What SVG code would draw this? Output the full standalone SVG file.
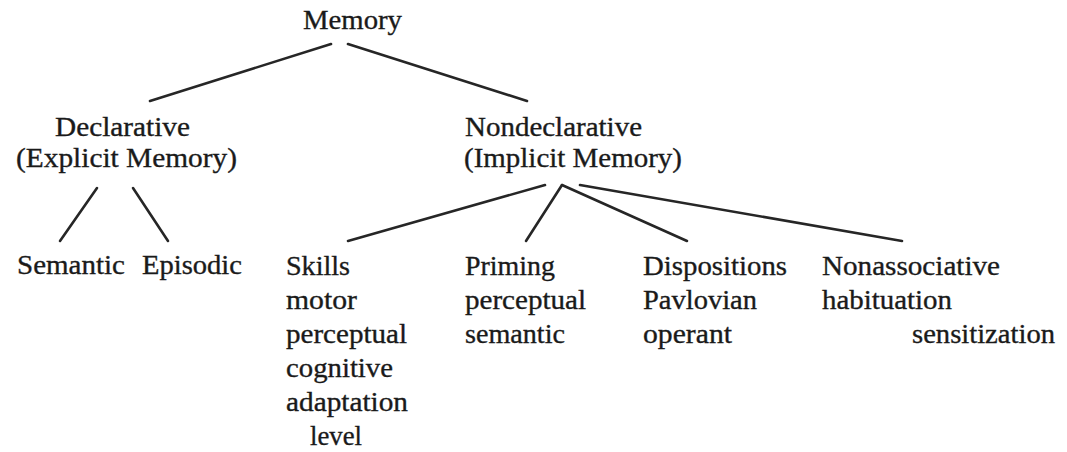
<svg xmlns="http://www.w3.org/2000/svg" width="1067" height="452" viewBox="0 0 1067 452">
<style>
text{font-family:"Liberation Serif","Times New Roman",serif;font-size:28px;fill:#1a1a1a;stroke:#1a1a1a;stroke-width:0.35}
.c line{stroke:#262626;stroke-width:2.6;stroke-linecap:round}
</style>
<rect width="1067" height="452" fill="#fff"/>
<g class="c" id="connectors">
<line x1="331" y1="44" x2="150" y2="101"/>
<line x1="348" y1="44" x2="527" y2="101"/>
<line x1="97" y1="188" x2="60" y2="241"/>
<line x1="133" y1="188" x2="168" y2="241"/>
<line x1="545" y1="185" x2="348" y2="241"/>
<line x1="562" y1="185" x2="526" y2="241"/>
<line x1="562" y1="185" x2="687" y2="241"/>
<line x1="580" y1="185" x2="902" y2="241"/>
</g>
<g id="memory"><text x="303" y="29" textLength="99" lengthAdjust="spacingAndGlyphs">Memory</text></g>
<g id="declarative">
<text x="55" y="136" textLength="135" lengthAdjust="spacingAndGlyphs">Declarative</text>
<text x="16" y="167" textLength="221" lengthAdjust="spacingAndGlyphs">(Explicit Memory)</text>
</g>
<g id="nondeclarative">
<text x="465" y="136" textLength="177" lengthAdjust="spacingAndGlyphs">Nondeclarative</text>
<text x="464" y="167" textLength="218" lengthAdjust="spacingAndGlyphs">(Implicit Memory)</text>
</g>
<g id="semantic"><text x="17" y="274" textLength="108" lengthAdjust="spacingAndGlyphs">Semantic</text></g>
<g id="episodic"><text x="142" y="274" textLength="100" lengthAdjust="spacingAndGlyphs">Episodic</text></g>
<g id="skills">
<text x="286" y="275" textLength="64" lengthAdjust="spacingAndGlyphs">Skills</text>
<text x="286" y="309" textLength="71" lengthAdjust="spacingAndGlyphs">motor</text>
<text x="286" y="343" textLength="121" lengthAdjust="spacingAndGlyphs">perceptual</text>
<text x="286" y="377" textLength="107" lengthAdjust="spacingAndGlyphs">cognitive</text>
<text x="286" y="411" textLength="122" lengthAdjust="spacingAndGlyphs">adaptation</text>
<text x="310" y="445" textLength="52" lengthAdjust="spacingAndGlyphs">level</text>
</g>
<g id="priming">
<text x="465" y="275" textLength="90" lengthAdjust="spacingAndGlyphs">Priming</text>
<text x="465" y="309" textLength="121" lengthAdjust="spacingAndGlyphs">perceptual</text>
<text x="465" y="343" textLength="100" lengthAdjust="spacingAndGlyphs">semantic</text>
</g>
<g id="dispositions">
<text x="643" y="275" textLength="144" lengthAdjust="spacingAndGlyphs">Dispositions</text>
<text x="643" y="309" textLength="114" lengthAdjust="spacingAndGlyphs">Pavlovian</text>
<text x="643" y="343" textLength="89" lengthAdjust="spacingAndGlyphs">operant</text>
</g>
<g id="nonassociative">
<text x="822" y="275" textLength="178" lengthAdjust="spacingAndGlyphs">Nonassociative</text>
<text x="822" y="309" textLength="130" lengthAdjust="spacingAndGlyphs">habituation</text>
<text x="912" y="343" textLength="143" lengthAdjust="spacingAndGlyphs">sensitization</text>
</g>
</svg>
